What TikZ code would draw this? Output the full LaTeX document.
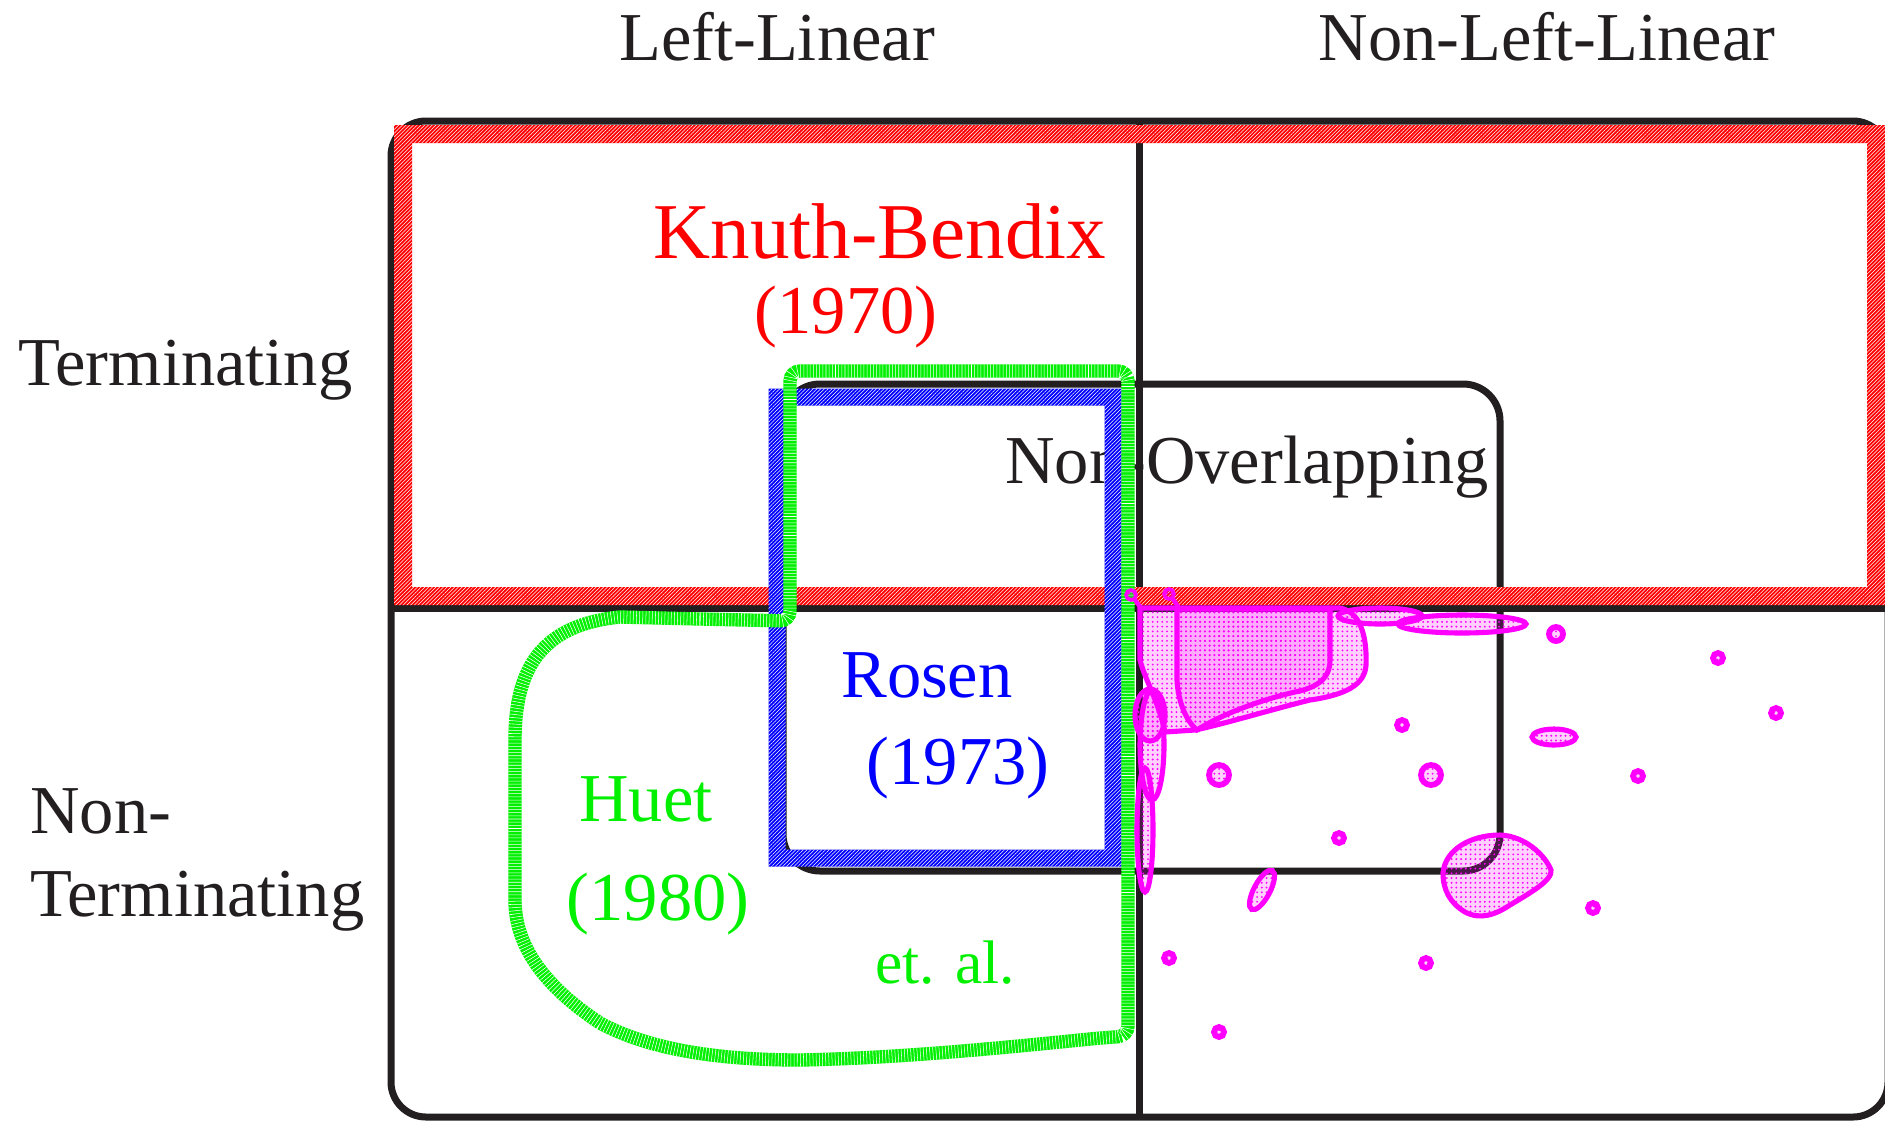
\documentclass[tikz,border=0pt]{standalone}
\usepackage{fontspec}
\setmainfont{Liberation Serif}
\usetikzlibrary{patterns.meta}
\definecolor{ink}{HTML}{231F20}
\definecolor{kbred}{HTML}{FF0000}
\definecolor{rblue}{HTML}{0000FF}
\definecolor{hgreen}{HTML}{00F000}
\definecolor{mag}{HTML}{FF00FF}
\tikzset{
  lbl/.style={inner sep=0pt, font=\fontsize{39}{47}\selectfont, text=ink},
  blk/.style={draw=ink, line width=3.98pt},
  hatchband/.style={even odd rule, fill=#1,
     postaction={pattern={Lines[angle=45,distance=1.5pt,line width=0.3pt]}, pattern color=white}},
  greenband/.style={draw=hgreen, line width=7.6pt,
     postaction={draw=white, line width=7.6pt, dash pattern=on 0.3pt off 1.5pt}},
  mblob/.style={draw=mag, line width=2.9pt, preaction={fill=mag, fill opacity=0.18},
     pattern={Dots[radius=0.6pt, distance=2.7pt]}, pattern color=mag},
  mring/.style={mblob, line width=3.3pt},
  mline/.style={draw=mag, line width=2.5pt, line cap=round}
}
\begin{document}
\begin{tikzpicture}[x=0.02cm, y=-0.02cm]
\useasboundingbox (0,0) rectangle (1885,1120);
\clip (0,0) rectangle (1885,1120);

% headings
\node[lbl, anchor=base] (hLL) at (777,60) {Left-Linear};
\node[lbl, anchor=base] (hNLL) at (1547,60) {Non-Left-Linear};
\node[lbl, anchor=base west] (tTerm) at (18,385) {Terminating};
\node[lbl, anchor=base west] (tNon) at (30,833) {Non-};
\node[lbl, anchor=base west] (tNT) at (30,916) {Terminating};
\node[lbl, anchor=base] (nol) at (1247,483) {Non-Overlapping};

% black frame and grid
\draw[blk, rounded corners=19.9pt] (391,121) rectangle (1888,1117);
\draw[blk] (1139,121) -- (1139,1117);
\draw[blk] (391,608) -- (1888,608);
\draw[blk, rounded corners=21pt] (783,384) rectangle (1500,871);

% Knuth-Bendix band
\path[hatchband=kbred] (394,125) rectangle (1885,605) (412,143) rectangle (1867,587);
% Rosen band
\path[hatchband=rblue] (768.5,388.5) rectangle (1121.5,866.5) (785.5,405.5) rectangle (1104.5,849.5);
% Huet band
\draw[greenband] (700,619) [rounded corners=5.7pt] -- (790,621) -- (790,371) -- (1128,371) -- (1128,1036) -- (1100,1038)
  [sharp corners] .. controls (1000,1048) and (900,1058) .. (800,1060)
  .. controls (720,1060) and (650,1050) .. (600,1023)
  .. controls (550,990) and (515,950) .. (515,900) -- (515,740)
  .. controls (515,670) and (540,625) .. (620,617) -- cycle;

% coloured labels
\node[lbl, anchor=base, text=kbred, font=\fontsize{45}{54}\selectfont] (kb) at (880,258) {Knuth-Bendix};
\node[lbl, anchor=base, text=kbred] (kby) at (846,333) {(1970)};
\node[lbl, anchor=base, text=rblue] (ros) at (927,697) {Rosen};
\node[lbl, anchor=base, text=rblue] (rosy) at (958,784) {(1973)};
\node[lbl, anchor=base, text=hgreen] (huet) at (646,821) {Huet};
\node[lbl, anchor=base, text=hgreen] (huety) at (658,920) {(1980)};
\node[lbl, anchor=base, text=hgreen, font=\fontsize{35}{42}\selectfont] (etal) at (945,983) {et. al.};

% magenta region
\path[mblob] (1140,608) -- (1340,608) .. controls (1362,612) and (1367,640) .. (1366,665)
  .. controls (1365,685) and (1345,695) .. (1310,700)
  .. controls (1270,710) and (1220,725) .. (1195,730) -- (1165,732)
  .. controls (1158,700) and (1145,680) .. (1140,660) -- cycle;
\path[mblob] (1177,609) -- (1330,609) -- (1330,660) .. controls (1330,680) and (1315,688) .. (1295,692)
  .. controls (1260,700) and (1220,715) .. (1197,730)
  .. controls (1185,720) and (1178,700) .. (1177,680) -- cycle;
\path[mblob] (1380,616) ellipse (42 and 8);
\path[mblob] (1462,624) ellipse (64 and 9);
\path[mblob] (1150,715) ellipse (15 and 26);
\path[mblob] (1152,745) ellipse (12 and 55);
\path[mblob] (1145,830) ellipse (8 and 62);
\path[mblob, rotate around={-28:(1262,890)}] (1262,890) ellipse (8 and 22);
\path[mblob] (1554,737) ellipse (22 and 8);
\path[mblob] (1443,873) .. controls (1445,850) and (1470,835) .. (1500,835)
  .. controls (1525,836) and (1545,855) .. (1551,870)
  .. controls (1553,880) and (1530,893) .. (1510,905)
  .. controls (1495,915) and (1480,920) .. (1465,912)
  .. controls (1450,903) and (1443,890) .. (1443,873) -- cycle;
% small loops
\path[mblob, line width=2pt] (1131,595) circle (5);
\draw[mline] (1135,600) -- (1141,608);
\path[mblob, line width=2pt] (1169,594) circle (5);
\draw[mline] (1173,599) -- (1179,608);
% rings
\path[mring] (1556,634) circle (7);
\path[mring] (1718,658) circle (5);
\path[mring] (1776,713) circle (5);
\path[mring] (1638,776) circle (5);
\path[mring] (1593,908) circle (5);
\path[mring] (1402,725) circle (5);
\path[mring] (1219,775) circle (10);
\path[mring] (1431,775) circle (10);
\path[mring] (1339,838) circle (5);
\path[mring] (1169,958) circle (5);
\path[mring] (1426,963) circle (5);
\path[mring] (1219,1032) circle (5);
\end{tikzpicture}
\end{document}
